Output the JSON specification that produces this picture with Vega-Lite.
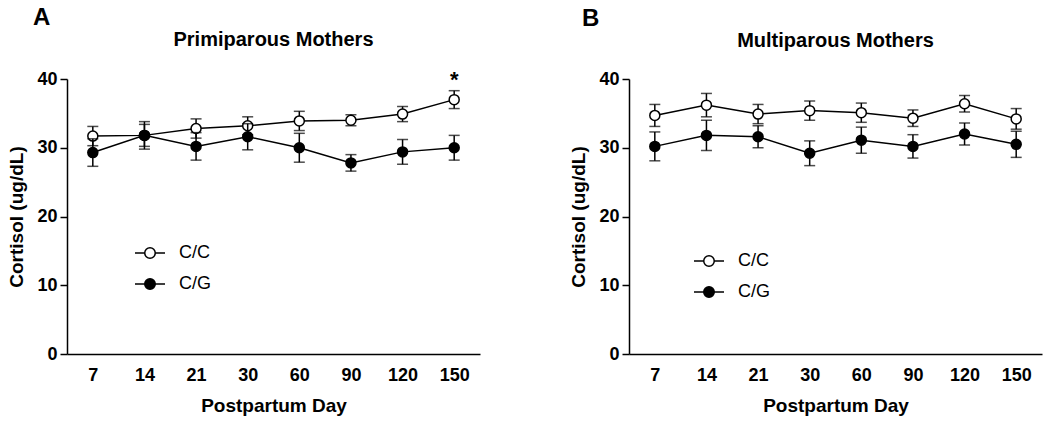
{
  "$schema": "https://vega.github.io/schema/vega-lite/v6.json",
  "padding": {"left": 7, "top": 5, "right": 5, "bottom": 3},
  "spacing": 89,
  "datasets": {
    "cortisol": [
      {"panel": "A", "day": "7", "geno": "C/C", "mean": 31.7, "err": 1.4},
      {"panel": "A", "day": "7", "geno": "C/G", "mean": 29.3, "err": 2.0},
      {"panel": "A", "day": "14", "geno": "C/C", "mean": 31.8, "err": 1.6},
      {"panel": "A", "day": "14", "geno": "C/G", "mean": 31.8, "err": 2.0},
      {"panel": "A", "day": "21", "geno": "C/C", "mean": 32.8, "err": 1.4},
      {"panel": "A", "day": "21", "geno": "C/G", "mean": 30.2, "err": 2.0},
      {"panel": "A", "day": "30", "geno": "C/C", "mean": 33.2, "err": 1.3},
      {"panel": "A", "day": "30", "geno": "C/G", "mean": 31.6, "err": 1.9},
      {"panel": "A", "day": "60", "geno": "C/C", "mean": 33.9, "err": 1.4},
      {"panel": "A", "day": "60", "geno": "C/G", "mean": 30.0, "err": 2.1},
      {"panel": "A", "day": "90", "geno": "C/C", "mean": 34.0, "err": 0.8},
      {"panel": "A", "day": "90", "geno": "C/G", "mean": 27.8, "err": 1.2},
      {"panel": "A", "day": "120", "geno": "C/C", "mean": 34.9, "err": 1.1},
      {"panel": "A", "day": "120", "geno": "C/G", "mean": 29.4, "err": 1.8},
      {"panel": "A", "day": "150", "geno": "C/C", "mean": 37.0, "err": 1.3},
      {"panel": "A", "day": "150", "geno": "C/G", "mean": 30.0, "err": 1.8},
      {"panel": "B", "day": "7", "geno": "C/C", "mean": 34.7, "err": 1.6},
      {"panel": "B", "day": "7", "geno": "C/G", "mean": 30.2, "err": 2.1},
      {"panel": "B", "day": "14", "geno": "C/C", "mean": 36.2, "err": 1.7},
      {"panel": "B", "day": "14", "geno": "C/G", "mean": 31.8, "err": 2.2},
      {"panel": "B", "day": "21", "geno": "C/C", "mean": 34.9, "err": 1.4},
      {"panel": "B", "day": "21", "geno": "C/G", "mean": 31.6, "err": 1.6},
      {"panel": "B", "day": "30", "geno": "C/C", "mean": 35.4, "err": 1.4},
      {"panel": "B", "day": "30", "geno": "C/G", "mean": 29.2, "err": 1.8},
      {"panel": "B", "day": "60", "geno": "C/C", "mean": 35.1, "err": 1.4},
      {"panel": "B", "day": "60", "geno": "C/G", "mean": 31.1, "err": 1.9},
      {"panel": "B", "day": "90", "geno": "C/C", "mean": 34.3, "err": 1.2},
      {"panel": "B", "day": "90", "geno": "C/G", "mean": 30.2, "err": 1.7},
      {"panel": "B", "day": "120", "geno": "C/C", "mean": 36.4, "err": 1.2},
      {"panel": "B", "day": "120", "geno": "C/G", "mean": 32.0, "err": 1.6},
      {"panel": "B", "day": "150", "geno": "C/C", "mean": 34.2, "err": 1.5},
      {"panel": "B", "day": "150", "geno": "C/G", "mean": 30.5, "err": 1.9}
    ],
    "marks": [
      {"panel": "A", "day": "150", "mean": 39.9, "label": "*"}
    ]
  },
  "resolve": {"scale": {"fill": "independent"}, "legend": {"fill": "independent"}},
  "hconcat": [
    {
      "title": {"text": "A", "anchor": "start", "frame": "bounds", "fontSize": 24, "fontWeight": "bold", "dx": 25, "offset": 0},
      "resolve": {"scale": {"fill": "independent"}, "legend": {"fill": "independent"}},
      "vconcat": [
        {
          "width": 413,
          "height": 275,
          "title": {"text": "Primiparous Mothers", "fontSize": 20, "fontWeight": "bold", "offset": 19},
          "data": {"name": "cortisol"},
          "transform": [{"filter": "datum.panel === 'A'"}],
          "encoding": {
            "x": {"field": "day", "type": "ordinal", "sort": ["7", "14", "21", "30", "60", "90", "120", "150"], "scale": {"type": "point", "padding": 0.5}, "title": "Postpartum Day", "axis": {"labelAngle": 0, "ticks": false, "tickSize": 0, "labelPadding": 12, "titlePadding": 12}},
            "y": {"field": "mean", "type": "quantitative", "scale": {"domain": [0, 40]}, "title": "Cortisol (ug/dL)", "axis": {"values": [0, 10, 20, 30, 40], "tickSize": 7, "labelPadding": 3, "titlePadding": 10}}
          },
          "layer": [
            {"mark": {"type": "line", "color": "black", "strokeWidth": 1.5}, "encoding": {"detail": {"field": "geno"}}},
            {"transform": [{"filter": "datum.geno === 'C/C'"}], "mark": {"type": "errorbar", "ticks": {"size": 11, "color": "black"}, "rule": {"color": "black"}, "thickness": 1.5}, "encoding": {"yError": {"field": "err"}}},
            {"transform": [{"filter": "datum.geno === 'C/C'"}], "mark": {"type": "point", "shape": "circle", "filled": true, "stroke": "black", "strokeWidth": 1.5, "size": 100, "opacity": 1},
             "encoding": {"fill": {"field": "geno", "type": "nominal", "scale": {"domain": ["C/C", "C/G"], "range": ["white", "black"]},
               "legend": {"orient": "none", "legendX": 67, "legendY": 158, "title": null, "symbolType": "M-1,0H-0.35M0.35,0H1M0.35,0A0.35,0.35 0 1 1 -0.35,0A0.35,0.35 0 1 1 0.35,0Z", "symbolSize": 900, "symbolStrokeColor": "black", "symbolStrokeWidth": 1.5, "labelFontSize": 18, "labelFont": "Liberation Sans", "labelColor": "black", "labelOffset": 13, "rowPadding": 6}}}},
            {"transform": [{"filter": "datum.geno === 'C/G'"}], "mark": {"type": "errorbar", "ticks": {"size": 11, "color": "black"}, "rule": {"color": "black"}, "thickness": 1.5}, "encoding": {"yError": {"field": "err"}}},
            {"transform": [{"filter": "datum.geno === 'C/G'"}], "mark": {"type": "point", "shape": "circle", "filled": true, "stroke": "black", "strokeWidth": 1.5, "size": 100, "opacity": 1},
             "encoding": {"fill": {"field": "geno", "type": "nominal"}}},
            {"data": {"name": "marks"}, "mark": {"type": "text", "fontSize": 22, "fontWeight": "bold", "font": "Liberation Sans", "baseline": "middle", "align": "center", "color": "black"},
             "encoding": {"text": {"field": "label"}}}
          ]
        }
      ]
    },
    {
      "title": {"text": "B", "anchor": "start", "frame": "bounds", "fontSize": 24, "fontWeight": "bold", "dx": 12, "offset": 0},
      "resolve": {"scale": {"fill": "independent"}, "legend": {"fill": "independent"}},
      "vconcat": [
        {
          "width": 413,
          "height": 275,
          "title": {"text": "Multiparous Mothers", "fontSize": 20, "fontWeight": "bold", "offset": 19},
          "data": {"name": "cortisol"},
          "transform": [{"filter": "datum.panel === 'B'"}],
          "encoding": {
            "x": {"field": "day", "type": "ordinal", "sort": ["7", "14", "21", "30", "60", "90", "120", "150"], "scale": {"type": "point", "padding": 0.5}, "title": "Postpartum Day", "axis": {"labelAngle": 0, "ticks": false, "tickSize": 0, "labelPadding": 12, "titlePadding": 12}},
            "y": {"field": "mean", "type": "quantitative", "scale": {"domain": [0, 40]}, "title": "Cortisol (ug/dL)", "axis": {"values": [0, 10, 20, 30, 40], "tickSize": 7, "labelPadding": 3, "titlePadding": 10}}
          },
          "layer": [
            {"mark": {"type": "line", "color": "black", "strokeWidth": 1.5}, "encoding": {"detail": {"field": "geno"}}},
            {"transform": [{"filter": "datum.geno === 'C/C'"}], "mark": {"type": "errorbar", "ticks": {"size": 11, "color": "black"}, "rule": {"color": "black"}, "thickness": 1.5}, "encoding": {"yError": {"field": "err"}}},
            {"transform": [{"filter": "datum.geno === 'C/C'"}], "mark": {"type": "point", "shape": "circle", "filled": true, "stroke": "black", "strokeWidth": 1.5, "size": 100, "opacity": 1},
             "encoding": {"fill": {"field": "geno", "type": "nominal", "scale": {"domain": ["C/C", "C/G"], "range": ["white", "black"]},
               "legend": {"orient": "none", "legendX": 64, "legendY": 166, "title": null, "symbolType": "M-1,0H-0.35M0.35,0H1M0.35,0A0.35,0.35 0 1 1 -0.35,0A0.35,0.35 0 1 1 0.35,0Z", "symbolSize": 900, "symbolStrokeColor": "black", "symbolStrokeWidth": 1.5, "labelFontSize": 18, "labelFont": "Liberation Sans", "labelColor": "black", "labelOffset": 13, "rowPadding": 6}}}},
            {"transform": [{"filter": "datum.geno === 'C/G'"}], "mark": {"type": "errorbar", "ticks": {"size": 11, "color": "black"}, "rule": {"color": "black"}, "thickness": 1.5}, "encoding": {"yError": {"field": "err"}}},
            {"transform": [{"filter": "datum.geno === 'C/G'"}], "mark": {"type": "point", "shape": "circle", "filled": true, "stroke": "black", "strokeWidth": 1.5, "size": 100, "opacity": 1},
             "encoding": {"fill": {"field": "geno", "type": "nominal"}}}
          ]
        }
      ]
    }
  ],
  "config": {
    "view": {"stroke": null},
    "axis": {"grid": false, "domainColor": "black", "domainWidth": 1.5, "tickColor": "black", "tickWidth": 1.5, "labelFont": "Liberation Sans", "labelFontWeight": "bold", "labelFontSize": 18, "labelColor": "black", "titleFont": "Liberation Sans", "titleFontSize": 19, "titleFontWeight": "bold", "titleColor": "black"},
    "title": {"font": "Liberation Sans", "color": "black"}
  }
}
